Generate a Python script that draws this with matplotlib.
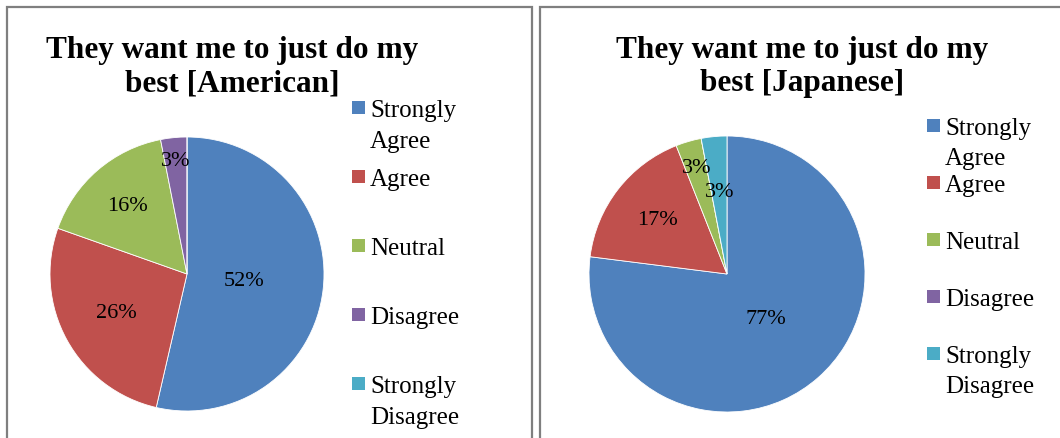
import numpy as np
import matplotlib.pyplot as plt
from matplotlib.patches import Rectangle

# survey answers, in percent
categories = ['Strongly Agree', 'Agree', 'Neutral', 'Disagree', 'Strongly Disagree']
legend_labels = ['Strongly\nAgree', 'Agree', 'Neutral', 'Disagree', 'Strongly\nDisagree']
american = [52, 26, 16, 3, 0]
japanese = [77, 17, 3, 0, 3]
colors = ['#4F81BD', '#C0504D', '#9BBB59', '#8064A2', '#4BACC6']

W, H = 1060, 439
plt.rcParams['font.family'] = ['Liberation Serif', 'DejaVu Serif']


def fx(x):
    return x / W


def fy(y):
    return 1 - y / H


def draw_panel(fig, left, right):
    # grey frame around each chart
    fig.patches.append(Rectangle((fx(left), fy(450)), fx(right - left), (450 - 8) / H,
                                 transform=fig.transFigure, fill=False,
                                 ec='#7f7f7f', lw=1.6))


def draw_pie(fig, cx, cy, r, values, label_radii):
    ax = fig.add_axes([fx(cx - r), fy(cy + r), 2 * r / W, 2 * r / H])
    wedges, _ = ax.pie(values, colors=colors, startangle=90, counterclock=False,
                       wedgeprops=dict(edgecolor='white', linewidth=0.6))
    for w, v, lr in zip(wedges, values, label_radii):
        if v == 0:
            continue
        ang = np.deg2rad((w.theta1 + w.theta2) / 2)
        ax.text(lr * np.cos(ang), lr * np.sin(ang), f'{v}%',
                ha='center', va='center', fontsize=16)
    ax.set_xlim(-1, 1)
    ax.set_ylim(-1, 1)
    ax.axis('off')


def draw_legend(fig, x, y0, step, line_gap=30):
    # marker sits beside the first line of each (possibly wrapped) label
    for i, (lab, c) in enumerate(zip(legend_labels, colors)):
        base = y0 + i * step
        fig.patches.append(Rectangle((fx(x), fy(base - 2)), 13 / W, 13 / H,
                                     transform=fig.transFigure, color=c, lw=0))
        for k, line in enumerate(lab.split('\n')):
            fig.text(fx(x + 18), fy(base + k * line_gap), line, fontsize=18,
                     va='baseline', ha='left')


fig = plt.figure(figsize=(W / 100, H / 100), dpi=100)

draw_panel(fig, 7, 532)
draw_panel(fig, 540, 1075)

fig.text(fx(232), fy(67), 'They want me to just do my\nbest [American]',
         ha='center', va='center', fontsize=22.5, fontweight='bold', linespacing=1.22)
fig.text(fx(802), fy(67), 'They want me to just do my\nbest [Japanese]',
         ha='center', va='center', fontsize=22.5, fontweight='bold', linespacing=1.22)

draw_pie(fig, 187, 275, 137, american, [0.42, 0.59, 0.66, 0.83, 0.6])
draw_pie(fig, 727, 275, 138, japanese, [0.43, 0.64, 0.80, 0.6, 0.6])

draw_legend(fig, 352, 117, 69, 31)
draw_legend(fig, 927, 135, 57, 30)

fig.savefig('out.png', dpi=100)
